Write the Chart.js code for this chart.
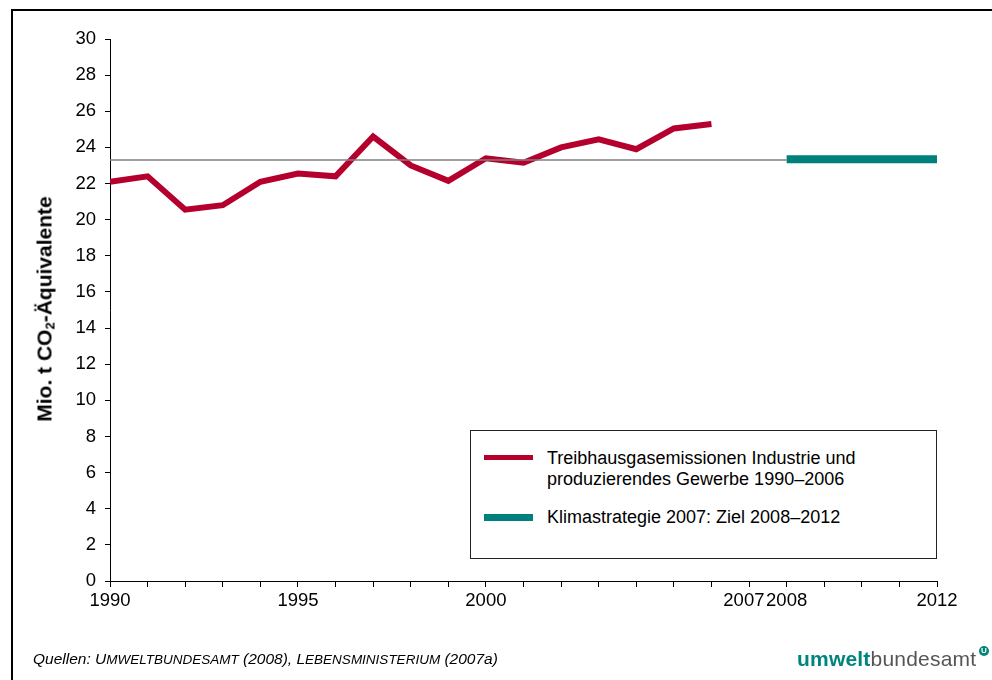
<!DOCTYPE html>
<html>
<head>
<meta charset="utf-8">
<script src="https://cdn.jsdelivr.net/npm/chart.js@4.4.1/dist/chart.umd.min.js"></script>
<style>
  html, body { margin: 0; padding: 0; background: #fff; }
  body { width: 992px; height: 680px; position: relative; overflow: hidden; font-family: "Liberation Sans", Arial, sans-serif; }
  #frame { position: absolute; left: 11px; top: 9px; width: 990px; height: 680px; border-left: 2px solid #000; border-top: 2px solid #000; }
  #chart { position: absolute; left: 0; top: 0; }
  #ytitle { position: absolute; left: 45px; top: 309px; transform: translate(-50%, -50%) rotate(-90deg); white-space: nowrap; font-weight: bold; font-size: 21px; color: #000; }
  #ytitle sub { font-size: 13px; vertical-align: -3px; }
  #legend { position: absolute; left: 470px; top: 430px; width: 465px; height: 127px; border: 1px solid #222; background: #fff; }
  .swatch { position: absolute; left: 13px; width: 49px; }
  .ltext { position: absolute; left: 76px; font-size: 18px; line-height: 21px; color: #000; }
  #source { position: absolute; left: 33px; top: 650px; font-size: 15.5px; font-style: italic; color: #000; }
  #source .sc { font-size: 13.5px; }
  #logo { position: absolute; left: 797px; top: 647px; font-size: 21px; color: #555; letter-spacing: 0.2px; }
  #logo b { color: #00857c; }
  #logo .dot { position: absolute; left: 182px; top: -1px; width: 10px; height: 10px; border-radius: 50%; background: #00857c; color: #fff; font-size: 8px; line-height: 10px; text-align: center; font-weight: bold; }
</style>
</head>
<body>
<div id="frame"></div>
<canvas id="chart" width="992" height="680"></canvas>
<div id="ytitle">Mio. t CO<sub>2</sub>-Äquivalente</div>
<div id="legend">
  <div class="swatch" style="top:24px;height:5px;background:#b5002d"></div>
  <div class="ltext" style="top:17px">Treibhausgasemissionen Industrie und<br>produzierendes Gewerbe 1990–2006</div>
  <div class="swatch" style="top:83px;height:7px;background:#00807c"></div>
  <div class="ltext" style="top:76px">Klimastrategie 2007: Ziel 2008–2012</div>
</div>
<div id="source">Quellen: U<span class="sc">MWELTBUNDESAMT</span> (2008), L<span class="sc">EBENSMINISTERIUM</span> (2007a)</div>
<div id="logo"><b>umwelt</b>bundesamt<span class="dot">U</span></div>

<script>
// ── Data ───────────────────────────────────────────────────────────────────
const YEARS      = [1990,1991,1992,1993,1994,1995,1996,1997,1998,1999,2000,2001,2002,2003,2004,2005,2006];
const EMISSIONS  = [22.1,22.4,20.55,20.8,22.1,22.55,22.4,24.6,23.0,22.15,23.4,23.15,24.0,24.45,23.9,25.05,25.3];
const REF_YEARS  = [1990, 2008];
const REF_VALUES = [23.3, 23.3];
const TARGET_YEARS  = [2008, 2012];
const TARGET_VALUES = [23.35, 23.35];
const X_LABELS   = [1990, 1995, 2000, 2007, 2008, 2012];

const toPoints = (xs, ys) => xs.map((x, i) => ({ x, y: ys[i] }));

// ── Chart ──────────────────────────────────────────────────────────────────
const tickFont = { family: "'Liberation Sans', Arial, sans-serif", size: 18.5 };

new Chart(document.getElementById("chart").getContext("2d"), {
  type: "line",
  data: {
    datasets: [
      { label: "Referenz", data: toPoints(REF_YEARS, REF_VALUES), borderColor: "#808080", borderWidth: 1.5, pointRadius: 0 },
      { label: "Klimastrategie 2007: Ziel 2008–2012", data: toPoints(TARGET_YEARS, TARGET_VALUES), borderColor: "#00807c", borderWidth: 8, pointRadius: 0, borderCapStyle: "butt" },
      { label: "Treibhausgasemissionen", data: toPoints(YEARS, EMISSIONS), borderColor: "#b5002d", borderWidth: 6, pointRadius: 0, tension: 0, borderJoinStyle: "miter" },
    ],
  },
  options: {
    responsive: false,
    animation: false,
    devicePixelRatio: 1,
    layout: { padding: { left: 0, top: 39, right: 55, bottom: 59 } },
    plugins: { legend: { display: false }, tooltip: { enabled: false } },
    scales: {
      x: {
        type: "linear", min: 1990, max: 2012,
        afterFit: s => { s.height = 40; },
        afterBuildTicks: s => { s.ticks = []; for (let y = 1990; y <= 2012; y++) s.ticks.push({ value: y }); },
        ticks: {
          autoSkip: false, maxRotation: 0, color: "#000", font: tickFont, padding: 3,
          // 2007 sits right next to 2008, nudge it left with trailing spaces
          callback: v => !X_LABELS.includes(v) ? "" : (v === 2007 ? "2007  " : String(v)),
        },
        grid: { drawOnChartArea: false, drawTicks: true, tickLength: 6, color: "#000" },
        border: { color: "#000", width: 1 },
      },
      y: {
        min: 0, max: 30,
        afterFit: s => { s.width = 110; },
        ticks: { stepSize: 2, color: "#000", font: tickFont, padding: 9 },
        grid: { drawOnChartArea: false, drawTicks: true, tickLength: 5, color: "#000" },
        border: { color: "#000", width: 1 },
      },
    },
  },
});
</script>
</body>
</html>
